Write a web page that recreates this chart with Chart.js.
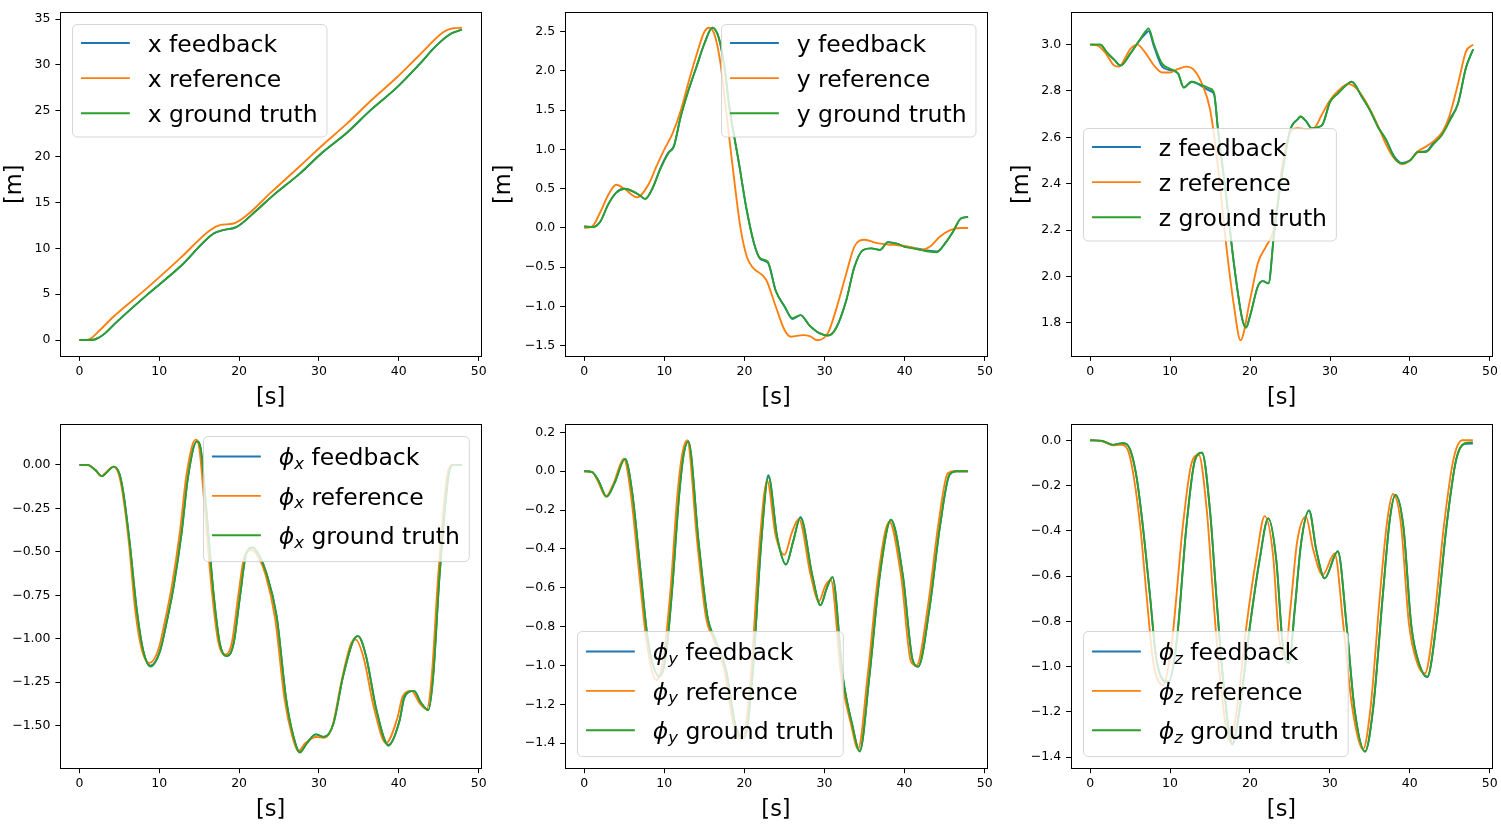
<!DOCTYPE html>
<html><head><meta charset="utf-8">
<script src="https://cdn.jsdelivr.net/npm/chart.js@4.4.1/dist/chart.umd.min.js"></script>
<style>
html,body{margin:0;padding:0;background:#fff;}
body{width:1501px;height:831px;position:relative;overflow:hidden;}
canvas{position:absolute;}
</style></head><body>
<canvas id="c1" width="500" height="410" style="left:0px;top:0px"></canvas>
<canvas id="c2" width="510" height="410" style="left:490px;top:0px"></canvas>
<canvas id="c3" width="530" height="410" style="left:980px;top:0px"></canvas>
<canvas id="c4" width="500" height="421" style="left:0px;top:410px"></canvas>
<canvas id="c5" width="510" height="421" style="left:490px;top:410px"></canvas>
<canvas id="c6" width="530" height="421" style="left:980px;top:410px"></canvas>
<script>
// ---------- tick labels ----------
const xTickVals = [0, 10, 20, 30, 40, 50];
const xTickLabels = ['0', '10', '20', '30', '40', '50'];
const yTicks1 = [0, 5, 10, 15, 20, 25, 30, 35];
const yLabels1 = ['0', '5', '10', '15', '20', '25', '30', '35'];
const yTicks2 = [-1.5, -1.0, -0.5, 0, 0.5, 1.0, 1.5, 2.0, 2.5];
const yLabels2 = ['\u22121.5', '\u22121.0', '\u22120.5', '0.0', '0.5', '1.0', '1.5', '2.0', '2.5'];
const yTicks3 = [1.8, 2.0, 2.2, 2.4, 2.6, 2.8, 3.0];
const yLabels3 = ['1.8', '2.0', '2.2', '2.4', '2.6', '2.8', '3.0'];
const yTicks4 = [-1.5, -1.25, -1.0, -0.75, -0.5, -0.25, 0];
const yLabels4 = ['\u22121.50', '\u22121.25', '\u22121.00', '\u22120.75', '\u22120.50', '\u22120.25', '0.00'];
const yTicks5 = [-1.4, -1.2, -1.0, -0.8, -0.6, -0.4, -0.2, 0, 0.2];
const yLabels5 = ['\u22121.4', '\u22121.2', '\u22121.0', '\u22120.8', '\u22120.6', '\u22120.4', '\u22120.2', '0.0', '0.2'];
const yTicks6 = [-1.4, -1.2, -1.0, -0.8, -0.6, -0.4, -0.2, 0];
const yLabels6 = ['\u22121.4', '\u22121.2', '\u22121.0', '\u22120.8', '\u22120.6', '\u22120.4', '\u22120.2', '0.0'];

// ---------- x position ----------
const xRefT = [0, 0.8, 1.4, 2.58, 4.25, 8.43, 12.6, 16.36, 17.6, 19.3, 20.95, 24, 27.6, 30.5, 33.5, 36.5, 39.7, 42.5, 45.6, 46.8, 47.9];
const xRefV = [0, 0, 0.15, 1.09, 2.54, 5.63, 8.9, 11.98, 12.53, 12.71, 13.6, 16.1, 18.95, 21.3, 23.6, 26.1, 28.6, 31.0, 33.6, 34.0, 34.05];
const xGtT = [0, 1.75, 2.4, 3.2, 4.25, 8.43, 12.6, 16.8, 18.0, 19.7, 22.2, 24.3, 27.6, 30.5, 33.5, 36.5, 39.7, 42.5, 44.7, 46.5, 47.9];
const xGtV = [0, 0.03, 0.25, 0.73, 1.63, 4.9, 7.99, 11.62, 11.98, 12.34, 14.16, 15.8, 18.15, 20.5, 22.6, 25.1, 27.5, 30.0, 32.1, 33.4, 33.85];
const xFbV = [0, 0.03, 0.25, 0.73, 1.63, 4.9, 7.99, 11.62, 11.98, 12.34, 14.16, 15.8, 18.15, 20.5, 22.6, 25.1, 27.5, 30.0, 32.1, 33.4, 33.85];

// ---------- y position ----------
const yRefT = [0, 1, 2, 3, 4, 5, 6.6, 8, 9, 10, 11, 12, 13, 14, 15, 15.6, 16.3, 17, 17.7, 18.5, 19.5, 20.3, 21, 22.7, 23.9, 25, 25.8, 27.3, 28.2, 29.1, 30.4, 31.4, 32.7, 33.7, 35, 36.4, 37.9, 39.2, 40.6, 42.1, 43.1, 44.4, 45.6, 46.9, 47.9];
const yRefV = [0, 0.02, 0.2, 0.42, 0.55, 0.5, 0.39, 0.55, 0.78, 1.0, 1.2, 1.48, 1.85, 2.2, 2.5, 2.55, 2.45, 2.1, 1.5, 0.8, 0.0, -0.37, -0.5, -0.66, -1.0, -1.3, -1.385, -1.365, -1.38, -1.43, -1.34, -1.05, -0.58, -0.24, -0.15, -0.19, -0.21, -0.22, -0.24, -0.28, -0.24, -0.11, -0.03, 0, 0];
const yGtT = [0, 1, 2, 3, 4, 5, 6, 7, 7.6, 8.5, 9.5, 10.5, 11.2, 12, 13, 14, 15, 16, 16.8, 17.5, 18.1, 19.35, 20.2, 21.2, 22, 22.9, 23.9, 25, 26, 27, 28.1, 29.35, 30.4, 31.4, 32.7, 33.7, 34.8, 35.8, 36.9, 37.9, 39, 40, 41, 42, 43, 44, 45, 46, 47, 47.9];
const yGtV = [0.02, 0.01, 0.08, 0.3, 0.45, 0.5, 0.47, 0.41, 0.37, 0.5, 0.75, 0.95, 1.05, 1.4, 1.75, 2.05, 2.35, 2.55, 2.42, 2.05, 1.55, 0.8, 0.27, -0.2, -0.39, -0.43, -0.8, -1.0, -1.15, -1.11, -1.24, -1.34, -1.37, -1.28, -0.92, -0.5, -0.28, -0.26, -0.28, -0.18, -0.2, -0.24, -0.26, -0.28, -0.3, -0.31, -0.2, -0.05, 0.12, 0.14];
const yFbV = [0.02, 0.01, 0.08, 0.3, 0.45, 0.5, 0.47, 0.41, 0.37, 0.5, 0.76, 0.96, 1.04, 1.4, 1.75, 2.05, 2.35, 2.55, 2.42, 2.05, 1.55, 0.8, 0.27, -0.2, -0.4, -0.44, -0.8, -1.0, -1.16, -1.11, -1.24, -1.34, -1.37, -1.28, -0.92, -0.5, -0.28, -0.26, -0.28, -0.18, -0.2, -0.24, -0.25, -0.27, -0.29, -0.3, -0.2, -0.05, 0.12, 0.14];

// ---------- z position ----------
const zRefT = [0, 1, 2, 3, 3.6, 4.5, 5, 5.9, 7, 8, 9, 10, 11, 12, 13, 14, 15, 16, 17, 18, 18.8, 20, 21, 22, 23, 24, 25, 26, 27, 28, 29, 30, 31, 32.3, 33, 34, 35, 36, 37, 38, 39, 40, 41, 42, 43, 44, 45, 46, 47, 47.9];
const zRefV = [3.0, 2.995, 2.96, 2.91, 2.905, 2.95, 2.98, 3.0, 2.96, 2.91, 2.88, 2.88, 2.895, 2.905, 2.89, 2.83, 2.72, 2.47, 2.14, 1.87, 1.725, 1.9, 2.06, 2.13, 2.21, 2.47, 2.62, 2.64, 2.635, 2.64, 2.7, 2.76, 2.8, 2.83, 2.82, 2.78, 2.72, 2.65, 2.57, 2.51, 2.485, 2.5, 2.54, 2.56, 2.585, 2.62, 2.7, 2.83, 2.97, 3.0];
const zGtT = [0, 1.3, 2, 3, 3.8, 5, 6, 7, 7.3, 8, 9, 10, 11, 11.7, 12.7, 14, 15, 15.5, 16, 17, 18, 19, 19.5, 20, 21, 21.6, 22.3, 23, 24, 25, 26, 26.3, 27, 27.7, 29, 30, 31, 32, 32.7, 34, 35, 36, 37, 38, 39, 40, 41, 42, 43, 44, 45, 46, 47, 47.9];
const zGtV = [3.0, 3.0, 2.97, 2.935, 2.91, 2.96, 3.01, 3.06, 3.07, 3.0, 2.918, 2.896, 2.875, 2.815, 2.84, 2.825, 2.81, 2.79, 2.63, 2.35, 2.05, 1.82, 1.78, 1.83, 1.96, 1.98, 1.97, 2.185, 2.44, 2.63, 2.68, 2.69, 2.67, 2.64, 2.652, 2.753, 2.79, 2.825, 2.84, 2.774, 2.717, 2.645, 2.59, 2.515, 2.487, 2.5, 2.537, 2.537, 2.573, 2.61, 2.673, 2.745, 2.9, 2.98];
const zFbV = [3.0, 3.0, 2.97, 2.935, 2.91, 2.96, 3.01, 3.05, 3.058, 2.99, 2.905, 2.89, 2.875, 2.815, 2.84, 2.82, 2.8, 2.785, 2.63, 2.35, 2.05, 1.82, 1.78, 1.83, 1.96, 1.98, 1.97, 2.185, 2.44, 2.63, 2.68, 2.69, 2.67, 2.64, 2.652, 2.753, 2.79, 2.825, 2.84, 2.774, 2.717, 2.645, 2.59, 2.52, 2.49, 2.5, 2.537, 2.54, 2.58, 2.62, 2.68, 2.745, 2.9, 2.98];

// ---------- phi_x ----------
const pxRefT = [0, 1, 2, 2.7, 3.5, 4.2, 4.9, 5.4, 6.2, 7.0, 7.8, 8.75, 9.9, 10.7, 11.6, 12.6, 13.4, 14.55, 15.0, 15.7, 16.6, 17.4, 18.35, 19.1, 19.9, 20.7, 21.6, 22.4, 23.3, 24.5, 25.7, 26.6, 27.4, 28.3, 29.6, 30.6, 31.7, 32.8, 34.0, 34.6, 35.6, 36.9, 38.4, 39.8, 40.5, 41.6, 42.6, 43.5, 44.1, 44.9, 46.0, 46.6, 47.9];
const pxRefV = [0, 0, -0.03, -0.065, -0.035, -0.01, -0.05, -0.16, -0.45, -0.84, -1.06, -1.14, -1.06, -0.9, -0.69, -0.38, -0.06, 0.145, 0.1, -0.25, -0.73, -1.02, -1.09, -1.02, -0.75, -0.52, -0.49, -0.53, -0.63, -0.88, -1.35, -1.55, -1.645, -1.6, -1.565, -1.57, -1.5, -1.25, -1.03, -1.005, -1.11, -1.4, -1.6, -1.46, -1.33, -1.3, -1.37, -1.405, -1.23, -0.66, -0.08, 0, 0];
const pxGtT = [0, 1, 2, 2.8, 3.6, 4.3, 5, 5.5, 6.3, 7.2, 8, 8.9, 10.1, 10.9, 11.8, 12.8, 13.6, 14.7, 15.2, 15.9, 16.8, 17.6, 18.5, 19.3, 20.1, 20.9, 21.7, 22.5, 23.4, 24.7, 25.9, 26.8, 27.6, 28.5, 29.6, 30.6, 31.8, 33, 34.3, 34.9, 35.9, 37.2, 38.7, 40.1, 40.7, 41.9, 42.8, 43.7, 44.3, 45.1, 46.2, 46.8, 47.9];
const pxGtV = [0, 0, -0.03, -0.065, -0.035, -0.01, -0.05, -0.16, -0.45, -0.84, -1.07, -1.16, -1.07, -0.91, -0.7, -0.39, -0.07, 0.135, 0.09, -0.26, -0.74, -1.03, -1.1, -1.03, -0.76, -0.51, -0.475, -0.52, -0.62, -0.87, -1.35, -1.56, -1.655, -1.6, -1.55, -1.565, -1.49, -1.22, -1.01, -0.985, -1.1, -1.41, -1.615, -1.47, -1.33, -1.3, -1.37, -1.41, -1.22, -0.64, -0.07, 0, 0];
const pxFbV = [0, 0, -0.03, -0.065, -0.035, -0.01, -0.05, -0.16, -0.45, -0.84, -1.07, -1.155, -1.07, -0.91, -0.7, -0.39, -0.07, 0.135, 0.09, -0.26, -0.74, -1.03, -1.1, -1.03, -0.76, -0.51, -0.475, -0.52, -0.62, -0.87, -1.35, -1.56, -1.65, -1.6, -1.55, -1.565, -1.49, -1.22, -1.01, -0.985, -1.1, -1.41, -1.61, -1.47, -1.34, -1.3, -1.37, -1.41, -1.22, -0.64, -0.07, 0, 0];

// ---------- phi_y ----------
const pyRefT = [0, 1, 1.7, 2.7, 3.7, 4.95, 5.8, 6.8, 7.8, 9.0, 9.9, 10.8, 11.6, 12.25, 12.85, 14.1, 15.2, 16.2, 17.5, 18.7, 19.8, 20.8, 21.9, 22.85, 23.9, 25.0, 25.9, 26.8, 28.3, 29.3, 30.1, 30.8, 32.1, 33.3, 34.2, 35.4, 36.7, 38.1, 39.6, 40.8, 41.5, 42.9, 44.2, 45.4, 46.3, 47.9];
const pyRefV = [0, -0.005, -0.05, -0.13, -0.06, 0.065, -0.11, -0.5, -0.88, -1.075, -0.96, -0.6, -0.14, 0.09, 0.16, -0.36, -0.75, -0.87, -1.02, -1.31, -1.38, -1.06, -0.37, -0.05, -0.33, -0.43, -0.32, -0.245, -0.54, -0.67, -0.59, -0.56, -1.06, -1.3, -1.43, -1.05, -0.54, -0.26, -0.55, -0.98, -1.0, -0.7, -0.28, -0.01, 0, 0];
const pyGtT = [0, 1, 1.8, 2.8, 3.8, 5.1, 6, 7, 8, 9.4, 10.2, 11, 11.8, 12.4, 13.0, 14.3, 15.4, 16.4, 17.7, 18.9, 20.0, 21.0, 22.1, 23.0, 24.1, 25.2, 26.1, 27.0, 28.5, 29.5, 30.3, 31.0, 32.3, 33.5, 34.4, 35.6, 36.9, 38.3, 39.8, 41.0, 41.7, 43.1, 44.4, 45.6, 46.5, 47.9];
const pyGtV = [0, -0.005, -0.05, -0.131, -0.06, 0.063, -0.11, -0.5, -0.88, -1.057, -0.95, -0.6, -0.15, 0.08, 0.152, -0.37, -0.75, -0.87, -1.02, -1.31, -1.37, -1.06, -0.37, -0.03, -0.34, -0.48, -0.36, -0.24, -0.54, -0.69, -0.6, -0.545, -1.06, -1.31, -1.443, -1.06, -0.54, -0.251, -0.54, -0.97, -1.006, -0.71, -0.29, -0.02, 0, 0];
const pyFbV = [0, -0.005, -0.05, -0.131, -0.06, 0.065, -0.11, -0.5, -0.88, -1.055, -0.95, -0.6, -0.15, 0.08, 0.155, -0.37, -0.75, -0.87, -1.02, -1.31, -1.37, -1.06, -0.37, -0.02, -0.34, -0.48, -0.36, -0.235, -0.54, -0.69, -0.6, -0.545, -1.06, -1.31, -1.44, -1.06, -0.54, -0.25, -0.54, -0.97, -1.006, -0.71, -0.29, -0.02, 0, 0];

// ---------- phi_z ----------
const pzRefT = [0, 1.5, 2.9, 3.6, 4.0, 4.8, 5.5, 6.3, 7.1, 7.9, 9.1, 10.2, 11.6, 12.7, 13.6, 14.6, 15.4, 16.2, 17.5, 18.4, 19.6, 20.8, 21.85, 22.9, 23.6, 24.35, 25.1, 25.9, 27.0, 27.9, 29.1, 30.6, 31.7, 32.8, 34.15, 35.1, 36.3, 37.2, 37.9, 38.9, 39.9, 40.9, 41.9, 43.0, 44.3, 45.5, 46.6, 47.9];
const pzRefV = [0, -0.003, -0.022, -0.02, -0.02, -0.05, -0.17, -0.39, -0.7, -0.98, -1.08, -0.9, -0.38, -0.1, -0.065, -0.31, -0.69, -1.03, -1.33, -1.18, -0.81, -0.52, -0.335, -0.51, -0.86, -0.955, -0.73, -0.45, -0.337, -0.48, -0.595, -0.5, -0.82, -1.18, -1.365, -1.18, -0.67, -0.35, -0.237, -0.37, -0.81, -0.98, -1.03, -0.81, -0.37, -0.08, 0, 0];
const pzGtT = [0, 1.5, 2.9, 3.6, 4.1, 5, 5.8, 6.6, 7.5, 8.3, 9.75, 10.8, 12.05, 13.1, 14.0, 15.0, 15.8, 16.6, 17.8, 18.7, 20.0, 21.2, 22.3, 23.3, 24.1, 24.9, 25.6, 26.4, 27.4, 28.3, 29.35, 31.0, 32.1, 33.1, 34.4, 35.4, 36.65, 37.5, 38.2, 39.2, 40.2, 41.2, 42.2, 43.3, 44.6, 45.8, 46.9, 47.9];
const pzGtV = [0, -0.003, -0.02, -0.015, -0.013, -0.04, -0.16, -0.38, -0.69, -0.97, -1.07, -0.9, -0.38, -0.09, -0.055, -0.31, -0.69, -1.04, -1.345, -1.19, -0.82, -0.53, -0.345, -0.53, -0.9, -0.985, -0.75, -0.455, -0.31, -0.484, -0.61, -0.49, -0.82, -1.19, -1.375, -1.19, -0.676, -0.352, -0.241, -0.38, -0.82, -0.99, -1.044, -0.82, -0.38, -0.087, -0.013, -0.009];
const pzFbV = [0, -0.003, -0.02, -0.015, -0.013, -0.04, -0.16, -0.38, -0.69, -0.97, -1.065, -0.9, -0.38, -0.09, -0.055, -0.31, -0.69, -1.04, -1.34, -1.19, -0.82, -0.53, -0.345, -0.53, -0.9, -0.98, -0.75, -0.455, -0.31, -0.484, -0.61, -0.49, -0.82, -1.19, -1.375, -1.19, -0.676, -0.352, -0.241, -0.38, -0.82, -0.99, -1.047, -0.82, -0.38, -0.087, -0.015, -0.014];

// ---------- axis ranges ----------
const X_MIN = -2.395, X_MAX = 50.295;

const FONT = '"DejaVu Sans", "Liberation Sans", sans-serif';
const C_FB = '#1f77b4', C_REF = '#ff7f0e', C_GT = '#2ca02c';
const LW = 1.875;
const TICK_LEN = 4.9;

function pts(t, v) { return t.map((x, i) => ({ x: x, y: v[i] })); }

const framePlugin = {
  id: 'mplFrame',
  afterDatasetsDraw(chart) {
    const { ctx, chartArea: a } = chart;
    ctx.save();
    ctx.strokeStyle = '#000';
    ctx.lineWidth = 1;
    const l = Math.round(a.left) + 0.5, t = Math.round(a.top) + 0.5;
    const r = Math.round(a.right) + 0.5, b = Math.round(a.bottom) + 0.5;
    ctx.strokeRect(l, t, r - l, b - t);
    ctx.restore();
  }
};

function itemWidth(ctx, it, fs) {
  if (!it.sym) { ctx.font = fs + 'px ' + FONT; return ctx.measureText(it.text).width; }
  ctx.font = 'italic ' + fs + 'px ' + FONT;
  let w = ctx.measureText(it.sym).width;
  ctx.font = 'italic ' + (0.7 * fs) + 'px ' + FONT;
  w += ctx.measureText(it.sub).width;
  ctx.font = fs + 'px ' + FONT;
  w += ctx.measureText(it.text).width;
  return w;
}

function drawItem(ctx, it, fs, x, y) {
  ctx.fillStyle = '#000';
  ctx.textBaseline = 'alphabetic';
  ctx.textAlign = 'left';
  if (!it.sym) { ctx.font = fs + 'px ' + FONT; ctx.fillText(it.text, x, y); return; }
  ctx.font = 'italic ' + fs + 'px ' + FONT;
  ctx.fillText(it.sym, x, y);
  x += ctx.measureText(it.sym).width;
  ctx.font = 'italic ' + (0.7 * fs) + 'px ' + FONT;
  ctx.fillText(it.sub, x, y + 0.15 * fs);
  x += ctx.measureText(it.sub).width;
  ctx.font = fs + 'px ' + FONT;
  ctx.fillText(it.text, x, y);
}

const legendPlugin = {
  id: 'mplLegend',
  afterDraw(chart, args, o) {
    const { ctx, chartArea: a } = chart;
    const fs = 23.5;
    const pad = 0.4 * fs, hl = 2 * fs, hp = 0.8 * fs, ls = 0.5 * fs, ax = 0.5 * fs;
    const rowH = o.math ? 27.6 : 23.4;
    const hOff = o.math ? -3.2 : -2.6;
    const items = o.items;
    ctx.save();
    const tw = Math.max(...items.map(it => itemWidth(ctx, it, fs)));
    const w = pad * 2 + hl + hp + tw;
    const h = pad * 2 + items.length * rowH + (items.length - 1) * ls;
    let x, y;
    if (o.loc === 'upper left') { x = a.left + ax; y = a.top + ax; }
    else if (o.loc === 'upper right') { x = a.right - ax - w; y = a.top + ax; }
    else if (o.loc === 'center left') { x = a.left + ax; y = (a.top + a.bottom) / 2 - h / 2; }
    else { x = a.left + ax; y = a.bottom - ax - h; }
    x = Math.round(x) + 0.5; y = Math.round(y) + 0.5;
    const r = 0.2 * fs;
    ctx.beginPath();
    ctx.moveTo(x + r, y);
    ctx.lineTo(x + w - r, y); ctx.arcTo(x + w, y, x + w, y + r, r);
    ctx.lineTo(x + w, y + h - r); ctx.arcTo(x + w, y + h, x + w - r, y + h, r);
    ctx.lineTo(x + r, y + h); ctx.arcTo(x, y + h, x, y + h - r, r);
    ctx.lineTo(x, y + r); ctx.arcTo(x, y, x + r, y, r);
    ctx.closePath();
    ctx.fillStyle = 'rgba(255,255,255,0.8)';
    ctx.fill();
    ctx.strokeStyle = 'rgba(204,204,204,0.8)';
    ctx.lineWidth = 1;
    ctx.stroke();
    items.forEach((it, i) => {
      const cy = y + pad + i * (rowH + ls) + rowH / 2 + hOff;
      ctx.beginPath();
      ctx.moveTo(x + pad, cy);
      ctx.lineTo(x + pad + hl, cy);
      ctx.strokeStyle = it.color;
      ctx.lineWidth = LW;
      ctx.lineCap = 'square';
      ctx.stroke();
      drawItem(ctx, it, fs, x + pad + hl + hp, cy + 0.38 * fs);
    });
    ctx.restore();
  }
};

Chart.register(framePlugin, legendPlugin);

const panels = [
  { id: 'c1', W: 500, H: 410, al: 60.3, ar: 481, at: 12, ab: 356, yMin: -1.74, yMax: 35.73, yT: yTicks1, yL: yLabels1,
    yTitle: '[m]', yTitlePad: 4.25, xTitlePad: 0.75, loc: 'upper left', math: false, v: 'x', sub: '',
    ref: [xRefT, xRefV], gt: [xGtT, xGtV], fb: [xGtT, xFbV] },
  { id: 'c2', W: 510, H: 410, al: 75, ar: 497.3, at: 12, ab: 356, yMin: -1.631, yMax: 2.746, yT: yTicks2, yL: yLabels2,
    yTitle: '[m]', yTitlePad: 2.75, xTitlePad: 0.75, loc: 'upper right', math: false, v: 'y', sub: '',
    ref: [yRefT, yRefV], gt: [yGtT, yGtV], fb: [yGtT, yFbV] },
  { id: 'c3', W: 530, H: 410, al: 91, ar: 512.3, at: 12, ab: 356, yMin: 1.657, yMax: 3.139, yT: yTicks3, yL: yLabels3,
    yTitle: '[m]', yTitlePad: 31.25, xTitlePad: 0.75, loc: 'center left', math: false, v: 'z', sub: '',
    ref: [zRefT, zRefV], gt: [zGtT, zGtV], fb: [zGtT, zFbV] },
  { id: 'c4', W: 500, H: 421, al: 60.3, ar: 481, at: 14, ab: 358.3, yMin: -1.745, yMax: 0.235, yT: yTicks4, yL: yLabels4,
    yTitle: '', yTitlePad: 0, xTitlePad: 9.75, loc: 'upper right', math: true, v: '\u03D5', sub: 'x',
    ref: [pxRefT, pxRefV], gt: [pxGtT, pxGtV], fb: [pxGtT, pxFbV] },
  { id: 'c5', W: 510, H: 421, al: 75, ar: 497, at: 14, ab: 358.3, yMin: -1.529, yMax: 0.243, yT: yTicks5, yL: yLabels5,
    yTitle: '', yTitlePad: 0, xTitlePad: 9.75, loc: 'lower left', math: true, v: '\u03D5', sub: 'y',
    ref: [pyRefT, pyRefV], gt: [pyGtT, pyGtV], fb: [pyGtT, pyFbV] },
  { id: 'c6', W: 530, H: 421, al: 91, ar: 512, at: 14, ab: 358.3, yMin: -1.449, yMax: 0.072, yT: yTicks6, yL: yLabels6,
    yTitle: '', yTitlePad: 0, xTitlePad: 9.75, loc: 'lower left', math: true, v: '\u03D5', sub: 'z',
    ref: [pzRefT, pzRefV], gt: [pzGtT, pzGtV], fb: [pzGtT, pzFbV] }
];

const names = [' feedback', ' reference', ' ground truth'];
const colors = [C_FB, C_REF, C_GT];

panels.forEach(p => {
  const items = names.map((n, i) => p.math
    ? { sym: p.v, sub: p.sub, text: n, color: colors[i] }
    : { text: p.v + n, color: colors[i] });
  const mk = (lbl, d, color, order) => ({
    label: lbl, data: pts(d[0], d[1]), borderColor: color, backgroundColor: color,
    borderWidth: LW, pointRadius: 0, fill: false, cubicInterpolationMode: 'monotone',
    borderJoinStyle: 'round', order: order
  });
  const lblBase = p.math ? p.v + p.sub : p.v;
  new Chart(document.getElementById(p.id), {
    type: 'line',
    data: {
      datasets: [
        mk(lblBase + names[0], p.fb, C_FB, 2),
        mk(lblBase + names[1], p.ref, C_REF, 1),
        mk(lblBase + names[2], p.gt, C_GT, 0)
      ]
    },
    options: {
      responsive: false, animation: false, devicePixelRatio: 1, events: [],
      layout: { padding: { top: p.at, right: p.W - p.ar, left: 0, bottom: 0 }, autoPadding: false },
      plugins: {
        legend: { display: false }, tooltip: { enabled: false },
        mplLegend: { items: items, loc: p.loc, math: p.math }
      },
      scales: {
        x: {
          type: 'linear', min: X_MIN, max: X_MAX,
          afterBuildTicks: s => { s.ticks = xTickVals.map(v => ({ value: v })); },
          afterFit: s => { s.height = p.H - p.ab; },
          grid: { display: true, drawOnChartArea: false, drawTicks: true, tickLength: TICK_LEN, color: '#000', lineWidth: 1 },
          border: { display: false },
          ticks: { color: '#000', font: { family: FONT, size: 12.5 }, padding: 3.5, maxRotation: 0, minRotation: 0, autoSkip: false,
            callback: (v, i) => xTickLabels[i] },
          title: { display: true, text: '[s]', color: '#000', font: { family: FONT, size: 22.5, lineHeight: 1 },
            padding: { top: 0, bottom: p.xTitlePad } }
        },
        y: {
          type: 'linear', min: p.yMin, max: p.yMax,
          afterBuildTicks: s => { s.ticks = p.yT.map(v => ({ value: v })); },
          afterFit: s => { s.width = p.al; },
          grid: { display: true, drawOnChartArea: false, drawTicks: true, tickLength: TICK_LEN, color: '#000', lineWidth: 1 },
          border: { display: false },
          ticks: { color: '#000', font: { family: FONT, size: 12.5 }, padding: 4.9, autoSkip: false,
            callback: (v, i) => p.yL[i] },
          title: { display: p.yTitle !== '', text: p.yTitle, color: '#000', font: { family: FONT, size: 22.5, lineHeight: 1 },
            padding: { top: p.yTitlePad, bottom: 0 } }
        }
      }
    }
  });
});
</script>
</body></html>
